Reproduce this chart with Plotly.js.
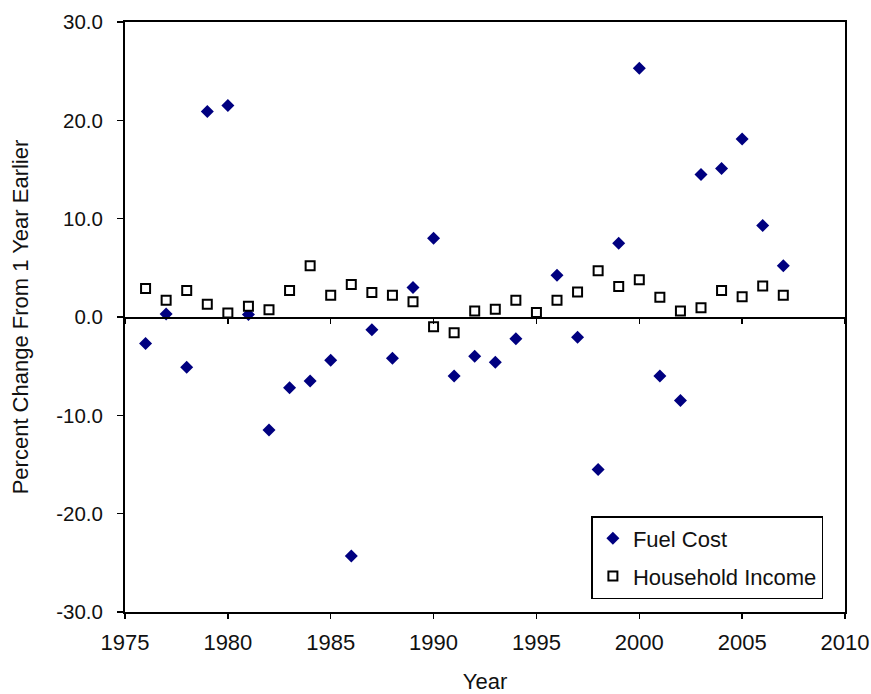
<!DOCTYPE html>
<html>
<head>
<meta charset="utf-8">
<script src="https://cdn.plot.ly/plotly-3.0.1.min.js"></script>
<style>html,body{margin:0;padding:0;background:#fff;}#chart{width:871px;height:694px;}</style>
</head>
<body>
<div id="chart"></div>
<script>
const years = [1976,1977,1978,1979,1980,1981,1982,1983,1984,1985,1986,1987,1988,1989,1990,1991,1992,1993,1994,1995,1996,1997,1998,1999,2000,2001,2002,2003,2004,2005,2006,2007];
const fuelCost = [-2.7,0.3,-5.1,20.9,21.5,0.25,-11.5,-7.2,-6.5,-4.4,-24.3,-1.3,-4.2,3.0,8.0,-6.0,-4.0,-4.6,-2.2,null,4.25,-2.05,-15.5,7.5,25.3,-6.0,-8.5,14.5,15.1,18.1,9.3,5.2];
const householdIncome = [2.9,1.7,2.7,1.3,0.4,1.1,0.75,2.7,5.2,2.2,3.3,2.5,2.2,1.55,-1.0,-1.6,0.6,0.8,1.7,0.45,1.7,2.55,4.7,3.1,3.8,2.0,0.6,0.95,2.7,2.05,3.15,2.2];
const xTicks = [1975,1980,1985,1990,1995,2000,2005,2010];
const yTickVals = [-30,-20,-10,0,10,20,30];
const yTickText = ["-30.0","-20.0","-10.0","0.0","10.0","20.0","30.0"];

const FONT = "Liberation Sans, Arial, sans-serif";
const traces = [
  {x: years, y: fuelCost, name: "Fuel Cost", type: "scatter", mode: "markers",
   legendgroup: "a",
   marker: {symbol: "diamond", size: 10, color: "#000080", line: {width: 0}}},
  {x: years, y: householdIncome, name: "Household Income", type: "scatter", mode: "markers",
   legendgroup: "b", xaxis: "x2",
   marker: {symbol: "square", size: 9, color: "#ffffff", line: {width: 2, color: "#000000"}}}
];
const layout = {
  width: 871, height: 694,
  margin: {l: 125, r: 26, t: 22, b: 82},
  paper_bgcolor: "#ffffff", plot_bgcolor: "#ffffff",
  font: {family: FONT, size: 22, color: "#111111"},
  showlegend: true,
  legend: {x: 0.97, y: 0.022, xanchor: "right", yanchor: "bottom",
    bordercolor: "#000000", borderwidth: 1.5, bgcolor: "#ffffff",
    font: {family: FONT, size: 22, color: "#111111"}, itemwidth: 30,
    traceorder: "grouped", tracegroupgap: 6},
  xaxis: {range: [1975, 2010], tickvals: xTicks, ticks: "outside", ticklen: 5, tickwidth: 1.5,
    tickcolor: "#000", showline: true, linecolor: "#000", linewidth: 2, mirror: true,
    showgrid: false, zeroline: false, ticklabelstandoff: 5,
    tickfont: {family: FONT, size: 22, color: "#111111"},
    title: {text: "Year", font: {family: FONT, size: 22}, standoff: 22}, automargin: false},
  xaxis2: {range: [1975, 2010], overlaying: "x", anchor: "free", position: 0.5,
    tickvals: xTicks, ticks: "outside", ticklen: 5, tickwidth: 1.5, tickcolor: "#000",
    showticklabels: false, showline: true, linecolor: "#000", linewidth: 1.5,
    showgrid: false, zeroline: false},
  yaxis: {range: [-30, 30], tickvals: yTickVals, ticktext: yTickText, ticks: "outside",
    ticklen: 6, tickwidth: 1.5, tickcolor: "#000", showline: true, linecolor: "#000",
    linewidth: 2, mirror: true, showgrid: false, zeroline: false, ticklabelstandoff: 10,
    tickfont: {family: FONT, size: 20.5, color: "#111111"},
    title: {text: "Percent Change From 1 Year Earlier", font: {family: FONT, size: 22}, standoff: 21},
    automargin: false}
};
Plotly.newPlot("chart", traces, layout, {displayModeBar: false, staticPlot: true});
</script>
</body>
</html>
